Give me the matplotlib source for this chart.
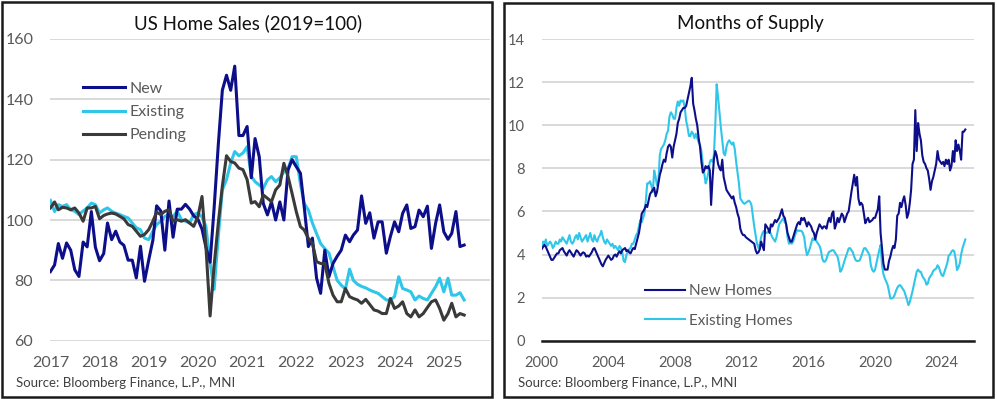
import matplotlib
matplotlib.use("Agg")
import matplotlib.pyplot as plt
from matplotlib.patches import Rectangle
import pandas as pd

plt.rcParams['font.family'] = ['Lato', 'DejaVu Sans']

# ---------------- Left chart: US Home Sales (2019=100), monthly from Jan 2017 ----------------
LEFT_START = '2017-01-01'
NEW_SALES = [
    82.9, 85.1, 92.2, 87.3, 92.4, 90.0, 83.5, 81.3, 92.7, 91.1, 102.8, 91.0,
    86.5, 88.9, 99.0, 93.5, 96.3, 92.7, 91.6, 86.7, 86.7, 80.8, 91.3, 79.7,
    86.7, 93.3, 104.7, 103.0, 90.0, 106.3, 94.3, 103.6, 103.6, 105.2, 103.6, 101.4,
    100.3, 97.0, 91.0, 86.0, 104.0, 125.0, 143.0, 148.0, 143.0, 151.0, 128.0, 128.0,
    131.0, 114.0, 127.0, 121.0, 105.5, 101.7, 106.0, 100.0, 106.0, 100.0, 116.6, 120.0,
    117.7, 115.5, 104.4, 91.2, 94.0, 80.7, 75.7, 90.0, 81.2, 85.6, 88.0, 90.0,
    95.0, 92.8, 95.0, 96.7, 108.0, 98.9, 102.4, 94.0, 99.4, 99.4, 89.0, 94.5,
    99.4, 96.1, 102.2, 105.0, 97.2, 97.8, 103.3, 101.1, 104.6, 90.6, 98.9, 105.0,
    96.1, 93.6, 95.6, 102.8, 91.2, 91.7,
]
EXISTING_SALES = [
    106.5, 102.8, 105.1, 104.5, 105.1, 103.4, 102.9, 101.8, 103.0, 104.0, 105.6, 105.1,
    102.3, 103.4, 104.0, 102.9, 102.3, 101.8, 101.2, 100.7, 99.0, 97.4, 96.8, 94.0,
    93.5, 96.3, 98.5, 99.6, 101.2, 101.8, 101.2, 102.9, 100.1, 99.6, 99.0, 101.8,
    102.3, 101.0, 97.9, 85.8, 77.0, 94.6, 110.0, 113.4, 118.9, 122.7, 121.3, 122.2,
    124.3, 114.5, 112.7, 111.6, 110.5, 113.3, 114.4, 112.7, 114.0, 116.0, 117.0, 121.0,
    121.0, 112.0, 105.5, 103.3, 99.0, 95.5, 92.2, 90.5, 89.0, 84.5, 80.0, 78.4,
    77.1, 83.7, 80.0, 78.7, 78.0, 77.5, 76.8, 76.2, 75.7, 74.6, 73.5, 73.5,
    74.6, 81.2, 77.3, 76.8, 76.2, 73.5, 74.8, 74.0, 73.5, 75.7, 77.9, 80.7,
    76.2, 80.7, 75.1, 75.1, 75.9, 73.5,
]
PENDING_SALES = [
    104.0, 106.0, 103.4, 104.2, 104.0, 103.4, 104.0, 102.3, 99.6, 104.0, 104.0, 104.5,
    100.4, 101.5, 102.0, 102.3, 102.0, 101.2, 100.4, 98.5, 97.9, 96.3, 94.6, 95.2,
    96.8, 99.6, 102.6, 101.8, 102.9, 103.4, 99.6, 100.1, 99.6, 100.1, 99.0, 97.9,
    101.0, 107.8, 91.3, 68.2, 85.0, 99.0, 111.2, 121.3, 119.4, 118.9, 117.2, 116.7,
    113.4, 105.6, 106.1, 104.4, 108.3, 107.2, 106.1, 110.0, 111.6, 118.8, 114.4, 108.8,
    102.8, 97.8, 96.7, 93.9, 92.3, 86.2, 85.6, 85.6, 79.0, 75.1, 72.9, 72.9,
    77.3, 74.6, 74.0, 73.5, 72.4, 73.7, 72.0, 70.2, 69.8, 69.0, 69.0, 74.0,
    70.7, 71.5, 72.9, 69.0, 67.9, 70.2, 67.9, 69.0, 71.0, 72.9, 73.5, 70.7,
    66.8, 69.0, 72.4, 67.9, 69.0, 68.5,
]
LEFT_LABELS = ['New', 'Existing', 'Pending']
LEFT_YTICKS = [60, 80, 100, 120, 140, 160]
LEFT_XTICK_YEARS = [2017, 2018, 2019, 2020, 2021, 2022, 2023, 2024, 2025]

# ---------------- Right chart: Months of Supply, monthly from Jan 2000 ----------------
RIGHT_START = '2000-01-01'
NEW_MOS = [
    4.25, 4.35, 4.45, 4.35, 4.2, 4.05, 3.9, 3.75, 3.75, 3.85, 3.95, 4.05,
    4.05, 4.2, 4.25, 4.3, 4.15, 4.05, 3.95, 4.1, 4.2, 4.1, 4.0, 3.9,
    4.05, 4.2, 4.15, 4.05, 3.95, 4.05, 4.1, 4.05, 3.9, 3.95, 3.9, 4.0,
    4.1, 4.25, 4.3, 4.15, 4.0, 3.85, 3.7, 3.55, 3.45, 3.6, 3.75, 3.85,
    3.95, 3.85, 3.75, 3.8, 3.95, 4.0, 3.9, 4.05, 4.15, 4.05, 4.2, 4.25,
    4.3, 4.15, 4.2, 4.1, 4.05, 4.2, 4.3, 4.25, 4.5, 4.75, 5.0, 5.4,
    5.9, 6.0, 6.1, 6.3, 6.2, 6.5, 6.8, 6.9, 7.0, 7.1, 6.7, 6.9,
    7.3, 7.7, 7.9, 8.2, 8.4, 8.3, 8.7, 9.0, 9.1, 9.0, 8.5, 9.0,
    9.3, 9.6, 10.1, 10.3, 10.6, 10.7, 10.8, 10.8, 10.9, 11.2, 11.5, 11.8,
    12.2, 11.0, 10.7, 10.3, 10.0, 9.4, 9.0, 8.3, 7.8, 7.9, 8.1, 8.0,
    8.1, 7.9, 6.3, 7.5, 8.4, 8.8, 8.6, 8.2, 8.0, 7.9, 8.4, 7.6,
    7.3, 7.0, 6.9, 6.8, 6.7, 6.6, 6.7, 6.4, 6.2, 5.9, 5.7, 5.2,
    5.0, 4.9, 4.9, 4.8, 4.75, 4.7, 4.65, 4.6, 4.55, 4.5, 4.2, 4.05,
    4.1, 4.25, 4.6, 4.4, 4.2, 5.4, 5.3, 5.2, 5.0, 5.4, 5.3, 5.45,
    5.6, 5.5, 5.6, 5.7, 5.9, 6.1, 5.8, 5.7, 5.4, 5.0, 4.8, 4.6,
    4.6, 4.8, 5.0, 5.2, 5.4, 5.5, 5.4, 5.7, 5.6, 5.7, 5.5, 5.3,
    5.5, 5.4, 5.3, 5.1, 5.0, 4.7, 5.0, 5.2, 5.4, 5.3, 5.2, 5.3,
    5.3, 5.2, 5.5, 5.7, 5.5, 5.9, 6.0, 5.2, 5.4, 5.7, 5.5, 5.7,
    5.9, 5.8, 5.5, 5.7, 5.9, 6.0, 6.45, 6.9, 7.3, 7.7, 7.2, 7.6,
    6.6, 6.3, 6.4, 6.3, 5.9, 5.45, 5.6, 5.7, 5.5, 5.55, 5.6, 5.7,
    5.7, 5.9, 6.1, 6.7, 5.0, 4.3, 3.6, 3.3, 3.3, 3.3, 3.7, 3.9,
    4.2, 4.4, 4.3, 4.7, 5.8, 5.9, 6.4, 6.2, 6.5, 6.7, 6.3, 5.7,
    5.9, 6.4, 7.0, 8.2, 8.4, 10.7, 8.8, 10.1, 9.6, 9.3, 8.6, 8.3,
    8.2, 8.0, 7.9, 7.5, 7.0, 7.4, 7.6, 7.9, 8.2, 8.8, 8.4, 8.3,
    8.2, 8.3, 8.1, 8.4, 8.2, 8.4, 7.9, 8.1, 8.8, 8.3, 9.3, 8.8,
    9.1, 8.8, 8.4, 9.7, 9.7, 9.8,
]
EXISTING_MOS = [
    4.3, 4.6, 4.5, 4.7, 4.4, 4.5, 4.6, 4.5, 4.3, 4.4, 4.6, 4.5,
    4.5, 4.7, 4.6, 4.8, 4.7, 4.6, 4.5, 4.7, 4.9, 4.6, 4.5, 4.6,
    4.8, 4.9, 4.7, 5.0, 4.8, 4.6, 4.7, 4.8, 4.9, 4.6, 4.8, 5.0,
    4.7, 4.6, 4.9, 4.7, 4.6, 4.8, 4.9, 5.1, 4.8, 4.6, 4.5, 4.7,
    4.6, 4.5, 4.4, 4.5, 4.3, 4.4, 4.3, 4.2, 4.4, 4.3, 4.1, 3.7,
    3.65, 4.0, 4.1, 4.25, 4.3, 4.5, 4.5, 4.7, 4.9, 5.0, 5.3, 5.6,
    5.5, 5.7, 5.9, 6.5, 7.3, 7.3, 7.4, 7.2, 6.9, 7.9, 7.6, 7.2,
    7.4, 8.6, 8.9, 9.0, 9.1, 9.3, 9.6, 9.75, 10.4, 10.6, 10.5, 10.3,
    10.3, 10.8, 11.1, 10.9, 11.15, 11.1, 11.15, 10.8, 10.2, 9.9, 9.5, 9.5,
    9.7, 9.6, 9.4, 9.6, 9.4, 9.2, 9.1, 8.8, 8.2, 7.8, 7.3, 7.5,
    7.8, 8.3, 8.4, 8.3, 8.6, 10.0, 11.9, 11.3, 10.6, 9.9, 9.3, 8.7,
    8.6, 9.0, 9.2, 9.3, 9.2, 9.1, 9.2, 8.9, 8.3, 7.8, 7.3, 6.6,
    6.5, 6.4, 6.35, 6.4, 6.45, 6.5, 6.45, 6.3, 5.8, 5.3, 4.9, 4.5,
    4.3, 4.5, 4.8, 5.0, 5.1, 5.05, 5.0, 5.05, 5.1, 4.95, 4.8, 4.7,
    4.6, 4.8, 5.1, 5.4, 5.5, 5.6, 5.68, 5.5, 5.4, 4.8, 4.5, 4.55,
    4.5, 4.6, 4.8, 5.0, 5.13, 5.1, 5.1, 5.1, 5.0, 4.8, 4.3, 3.97,
    4.1, 4.28, 4.5, 4.75, 4.67, 4.7, 4.6, 4.5, 4.4, 4.2, 3.8, 3.67,
    3.67, 3.8, 4.0, 4.13, 4.15, 4.2, 4.2, 4.1, 4.0, 3.9, 3.6, 3.2,
    3.3, 3.5, 3.7, 3.9, 4.1, 4.28, 4.3, 4.2, 4.1, 3.9, 3.74, 3.7,
    3.7, 3.74, 3.9, 4.1, 4.28, 4.3, 4.2, 4.1, 3.97, 3.5, 3.28, 3.2,
    3.3, 3.6, 3.9, 4.2, 4.44, 3.5, 3.1, 2.9, 2.75, 2.6, 2.3, 1.96,
    1.96, 2.0, 2.1, 2.3, 2.45, 2.55, 2.58, 2.5, 2.4, 2.3, 2.1, 1.9,
    1.65, 1.8, 2.04, 2.3, 2.6, 2.9, 3.2, 3.3, 3.2, 3.2, 3.0, 2.9,
    2.8, 2.6, 2.65, 2.9, 3.0, 3.1, 3.25, 3.3, 3.35, 3.5, 3.4, 3.2,
    3.04, 3.0, 3.2, 3.4, 3.6, 3.95, 4.0, 4.13, 4.2, 4.15, 3.8, 3.28,
    3.4, 3.6, 4.0, 4.3, 4.5, 4.7,
]
RIGHT_LABELS = ['New Homes', 'Existing Homes']
RIGHT_YTICKS = [0, 2, 4, 6, 8, 10, 12, 14]
RIGHT_XTICK_YEARS = [2000, 2004, 2008, 2012, 2016, 2020, 2024]

TITLES = ['US Home Sales (2019=100)', 'Months of Supply']
SOURCE = 'Source: Bloomberg Finance, L.P., MNI'

# ---------------- styling ----------------
NAVY = '#0d0f8a'
CYAN = '#2fc6ea'
DARK = '#3a3a3a'
GRID = '#d9d9d9'
TICK = '#595959'

W, H = 997, 399
fig = plt.figure(figsize=(W / 100, H / 100), dpi=100)


def rect(x0, y0, x1, y1):
    return [x0 / W, 1 - y1 / H, (x1 - x0) / W, (y1 - y0) / H]


# panel borders
for (x0, y0, x1, y1) in [(2, 1.5, 492, 397), (503.5, 3, 993, 396.5)]:
    fig.patches.append(Rectangle((x0 / W, 1 - y1 / H), (x1 - x0) / W, (y1 - y0) / H,
                                 transform=fig.transFigure, fill=False,
                                 lw=1.8, ec='#1a1a1a', zorder=10))

ax1 = fig.add_axes(rect(50, 39, 490, 340.7))
ax2 = fig.add_axes(rect(541.7, 39, 974, 340.7))

# Left chart
d1 = pd.date_range(LEFT_START, periods=len(NEW_SALES), freq='MS')
ax1.plot(d1, NEW_SALES, color=NAVY, lw=2.2, label=LEFT_LABELS[0], zorder=3)
ax1.plot(d1, EXISTING_SALES, color=CYAN, lw=2.2, label=LEFT_LABELS[1], zorder=2)
ax1.plot(d1, PENDING_SALES, color=DARK, lw=2.2, label=LEFT_LABELS[2], zorder=4)
ax1.set_ylim(60, 160)
ax1.set_yticks(LEFT_YTICKS)
ax1.set_xlim(pd.Timestamp('2016-12-29'), pd.Timestamp('2025-12-10'))
ax1.set_xticks([pd.Timestamp(f'{y}-01-01') for y in LEFT_XTICK_YEARS])
ax1.set_xticklabels([str(y) for y in LEFT_XTICK_YEARS])
leg1 = ax1.legend(loc='upper left', bbox_to_anchor=(0.075, 0.858), frameon=False,
                  fontsize=11.5, handlelength=2.6, handletextpad=0.3,
                  labelspacing=0.56, borderpad=0, borderaxespad=0)
for t in leg1.get_texts():
    t.set_color(TICK)

# Right chart
d2 = pd.date_range(RIGHT_START, periods=len(NEW_MOS), freq='MS')
ax2.plot(d2, NEW_MOS, color=NAVY, lw=1.5, label=RIGHT_LABELS[0], zorder=3)
ax2.plot(d2, EXISTING_MOS, color=CYAN, lw=1.5, label=RIGHT_LABELS[1], zorder=2)
ax2.set_ylim(0, 14)
ax2.set_yticks(RIGHT_YTICKS)
ax2.set_xlim(pd.Timestamp('2000-01-01'), pd.Timestamp('2025-12-08'))
ax2.set_xticks([pd.Timestamp(f'{y}-01-01') for y in RIGHT_XTICK_YEARS])
ax2.set_xticklabels([str(y) for y in RIGHT_XTICK_YEARS])
ax2.axhline(0, color='#1a1a1a', lw=1.8, zorder=5, clip_on=False)
leg2 = ax2.legend(loc='upper left', bbox_to_anchor=(0.239, 0.187), frameon=False,
                  fontsize=11, handlelength=2.6, handletextpad=0.3,
                  labelspacing=1.0, borderpad=0, borderaxespad=0)
for t in leg2.get_texts():
    t.set_color(TICK)

for ax, fs in [(ax1, 11.5), (ax2, 10.5)]:
    for s in ax.spines.values():
        s.set_visible(False)
    ax.grid(axis='y', color=GRID, lw=1.4, zorder=0)
    ax.set_axisbelow(True)
    ax.tick_params(length=0, labelsize=fs, labelcolor=TICK)
    ax.tick_params(axis='y', pad=12)
    ax.tick_params(axis='x', pad=11)

# titles and source
fig.text(248 / W, 1 - 29.5 / H, TITLES[0], ha='center', va='baseline', fontsize=13.5, color='#111111')
fig.text(750 / W, 1 - 29.5 / H, TITLES[1], ha='center', va='baseline', fontsize=13.5, color='#111111')
fig.text(16 / W, 1 - 387 / H, SOURCE, ha='left', va='baseline', fontsize=9.5, color='#404040')
fig.text(518 / W, 1 - 387 / H, SOURCE, ha='left', va='baseline', fontsize=9.5, color='#404040')

fig.savefig('out.png', dpi=100)
